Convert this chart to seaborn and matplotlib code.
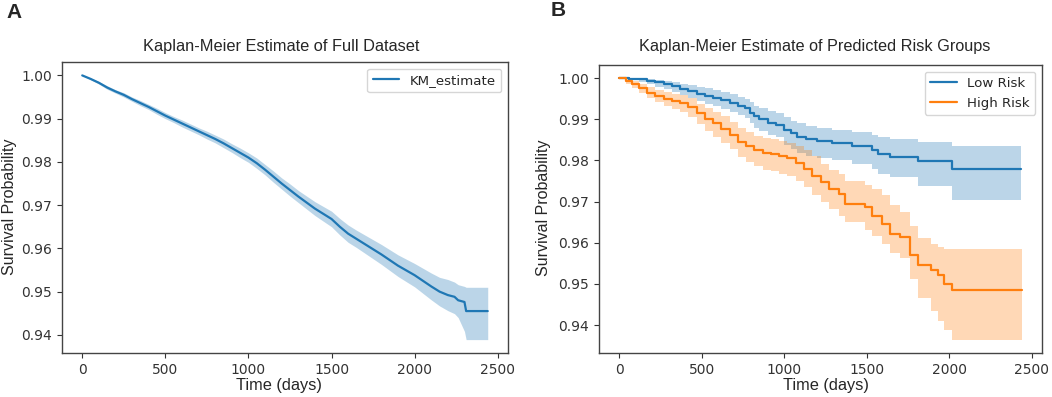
import seaborn as sns
import matplotlib.pyplot as plt

# Panel A - full dataset KM estimate (days, survival, CI lower, CI upper)
full_days = [0, 50, 100, 150, 200, 250, 300, 350, 400, 450, 500, 550, 600, 650, 700, 750,
             800, 850, 900, 950, 1000, 1050, 1100, 1150, 1200, 1250, 1300, 1350, 1400, 1450,
             1500, 1550, 1600, 1650, 1700, 1750, 1800, 1850, 1900, 1950, 2000, 2050, 2100,
             2150, 2200, 2240, 2262, 2300, 2310, 2440]
full_surv = [1.0000, .9992, .9983, .9972, .9963, .9955, .9945, .9936, .9927, .9917, .9907,
             .9898, .9889, .9880, .9871, .9862, .9853, .9843, .9832, .9821, .9810, .9797,
             .9782, .9766, .9750, .9735, .9720, .9706, .9692, .9680, .9668, .9650, .9634,
             .9622, .9610, .9598, .9586, .9573, .9560, .9549, .9538, .9525, .9512, .9500,
             .9492, .9488, .9480, .9476, .9455, .9455]
full_lo = [1.0000, .9990, .9980, .9968, .9959, .9950, .9940, .9930, .9921, .9910, .9900,
           .9891, .9881, .9872, .9863, .9853, .9844, .9833, .9822, .9810, .9799, .9785,
           .9770, .9753, .9737, .9721, .9706, .9691, .9676, .9663, .9650, .9631, .9614,
           .9602, .9589, .9576, .9563, .9549, .9535, .9523, .9511, .9496, .9481, .9467,
           .9456, .9449, .9440, .9408, .9389, .9389]
full_hi = [1.0000, .9994, .9986, .9976, .9967, .9960, .9950, .9942, .9933, .9924, .9914,
           .9905, .9897, .9888, .9879, .9871, .9862, .9853, .9842, .9832, .9821, .9809,
           .9794, .9779, .9763, .9749, .9734, .9721, .9708, .9697, .9686, .9669, .9654,
           .9642, .9631, .9620, .9609, .9597, .9585, .9575, .9565, .9554, .9543, .9533,
           .9528, .9522, .9516, .9512, .9510, .9510]

# Panel B - predicted risk groups (step functions)
low_days = [0, 60, 120, 170, 220, 270, 320, 370, 420, 470, 520, 570, 620, 670, 720, 760,
            790, 820, 850, 900, 950, 1000, 1040, 1080, 1130, 1200, 1290, 1410, 1530, 1570,
            1640, 1810, 2015, 2435]
low_surv = [1.0, .9999, .9997, .9994, .9990, .9986, .9980, .9974, .9969, .9962, .9957,
            .9952, .9946, .9940, .9933, .9927, .9916, .9907, .9900, .9892, .9886, .9875,
            .9866, .9858, .9852, .9848, .9842, .9834, .9826, .9816, .9809, .9799, .9779,
            .9779]
low_lo = [1.0, .9995, .9990, .9985, .9979, .9973, .9966, .9958, .9952, .9944, .9938,
          .9932, .9925, .9918, .9910, .9903, .9890, .9880, .9872, .9863, .9856, .9838,
          .9828, .9818, .9810, .9806, .9800, .9792, .9780, .9768, .9760, .9737, .9703,
          .9703]
low_hi = [1.0, 1.0, .9999, .9998, .9996, .9994, .9991, .9987, .9984, .9979, .9975,
          .9971, .9966, .9961, .9955, .9950, .9941, .9933, .9927, .9920, .9915, .9905,
          .9897, .9890, .9885, .9880, .9874, .9868, .9863, .9858, .9853, .9846, .9834,
          .9834]

high_days = [0, 40, 80, 120, 170, 220, 270, 320, 370, 420, 470, 520, 570, 620, 670, 720,
             770, 820, 870, 920, 970, 1020, 1070, 1120, 1170, 1220, 1270, 1330, 1370, 1490,
             1530, 1590, 1640, 1700, 1760, 1810, 1890, 1930, 1970, 2015, 2440]
high_surv = [1.0, .9992, .9985, .9976, .9965, .9957, .9950, .9944, .9939, .9930, .9915,
             .9902, .9890, .9877, .9862, .9845, .9834, .9825, .9818, .9816, .9810, .9805,
             .9793, .9780, .9762, .9748, .9730, .9718, .9695, .9687, .9666, .9645, .9621,
             .9613, .9571, .9546, .9534, .9521, .9500, .9486, .9486]
high_lo = [1.0, .9986, .9976, .9965, .9951, .9941, .9932, .9924, .9917, .9906, .9888,
           .9872, .9858, .9843, .9827, .9808, .9796, .9786, .9778, .9775, .9768, .9762,
           .9749, .9735, .9716, .9700, .9682, .9665, .9650, .9630, .9616, .9596, .9575,
           .9563, .9513, .9465, .9433, .9409, .9389, .9364, .9364]
high_hi = [1.0, .9997, .9993, .9987, .9978, .9971, .9966, .9962, .9958, .9951, .9938,
           .9928, .9918, .9907, .9893, .9878, .9868, .9860, .9855, .9852, .9847, .9843,
           .9835, .9825, .9810, .9792, .9777, .9766, .9750, .9741, .9730, .9716, .9691,
           .9674, .9640, .9612, .9596, .9590, .9586, .9584, .9584]

x_ticks = [0, 500, 1000, 1500, 2000, 2500]
y_ticks = [0.94, 0.95, 0.96, 0.97, 0.98, 0.99, 1.00]

BLUE = "#1f77b4"
ORANGE = "#ff7f0e"
LABEL_FONT = ["Liberation Sans", "DejaVu Sans"]

sns.set_style("ticks")
plt.rcParams["font.family"] = ["DejaVu Sans"]

fig = plt.figure(figsize=(10.52, 3.97), dpi=100)
ax1 = fig.add_axes([0.0589, 0.1108, 0.424, 0.733])
ax2 = fig.add_axes([0.5694, 0.1108, 0.4211, 0.7254])


def km_curve(ax, days, surv, lo, hi, color, label, step=True):
    if step:
        ax.fill_between(days, lo, hi, step="post", color=color, alpha=0.3, linewidth=0)
        sns.lineplot(x=days, y=surv, ax=ax, color=color, label=label,
                     drawstyle="steps-post", linewidth=1.6)
    else:
        ax.fill_between(days, lo, hi, color=color, alpha=0.3, linewidth=0)
        sns.lineplot(x=days, y=surv, ax=ax, color=color, label=label, linewidth=1.6)


# full dataset has many events, so its steps are tiny: draw it as a connected line
km_curve(ax1, full_days, full_surv, full_lo, full_hi, BLUE, "KM_estimate", step=False)
km_curve(ax2, low_days, low_surv, low_lo, low_hi, BLUE, "Low Risk")
km_curve(ax2, high_days, high_surv, high_lo, high_hi, ORANGE, "High Risk")

for ax in (ax1, ax2):
    ax.set_xticks(x_ticks)
    ax.set_yticks(y_ticks)
    ax.set_yticklabels([f"{v:.2f}" for v in y_ticks])
    ax.set_xlim(-122, 2562)
    ax.tick_params(labelsize=10, labelcolor="#333333", color="#333333",
                   length=3.5, width=0.8, direction="out")
    for s in ax.spines.values():
        s.set_color("#444444")
        s.set_linewidth(1.0)
    ax.set_xlabel("")
    ax.set_ylabel("")
    ax.legend(loc="upper right", fontsize=9.6, framealpha=0.8, edgecolor="0.8",
              handlelength=2.0)

ax1.set_ylim(0.9358, 1.0031)
ax2.set_ylim(0.9332, 1.0032)

fig.text(0.2676, 0.8841, "Kaplan-Meier Estimate of Full Dataset", ha="center", va="center",
         fontsize=11.8, family=LABEL_FONT)
fig.text(0.7747, 0.8841, "Kaplan-Meier Estimate of Predicted Risk Groups", ha="center",
         va="center", fontsize=11.7, family=LABEL_FONT)
fig.text(0.2652, 0.0302, "Time (days)", ha="center", va="center", fontsize=11.8,
         family=LABEL_FONT)
fig.text(0.7852, 0.0302, "Time (days)", ha="center", va="center", fontsize=11.8,
         family=LABEL_FONT)
fig.text(0.0086, 0.4786, "Survival Probability", ha="center", va="center", rotation=90,
         fontsize=11.5, family=LABEL_FONT)
fig.text(0.5171, 0.4761, "Survival Probability", ha="center", va="center", rotation=90,
         fontsize=11.5, family=LABEL_FONT)
fig.text(0.0138, 0.9685, "A", ha="center", va="center", fontsize=15, fontweight="bold",
         family=LABEL_FONT)
fig.text(0.5304, 0.9723, "B", ha="center", va="center", fontsize=15, fontweight="bold",
         family=LABEL_FONT)

plt.savefig("out.png", dpi=100)
plt.close()
